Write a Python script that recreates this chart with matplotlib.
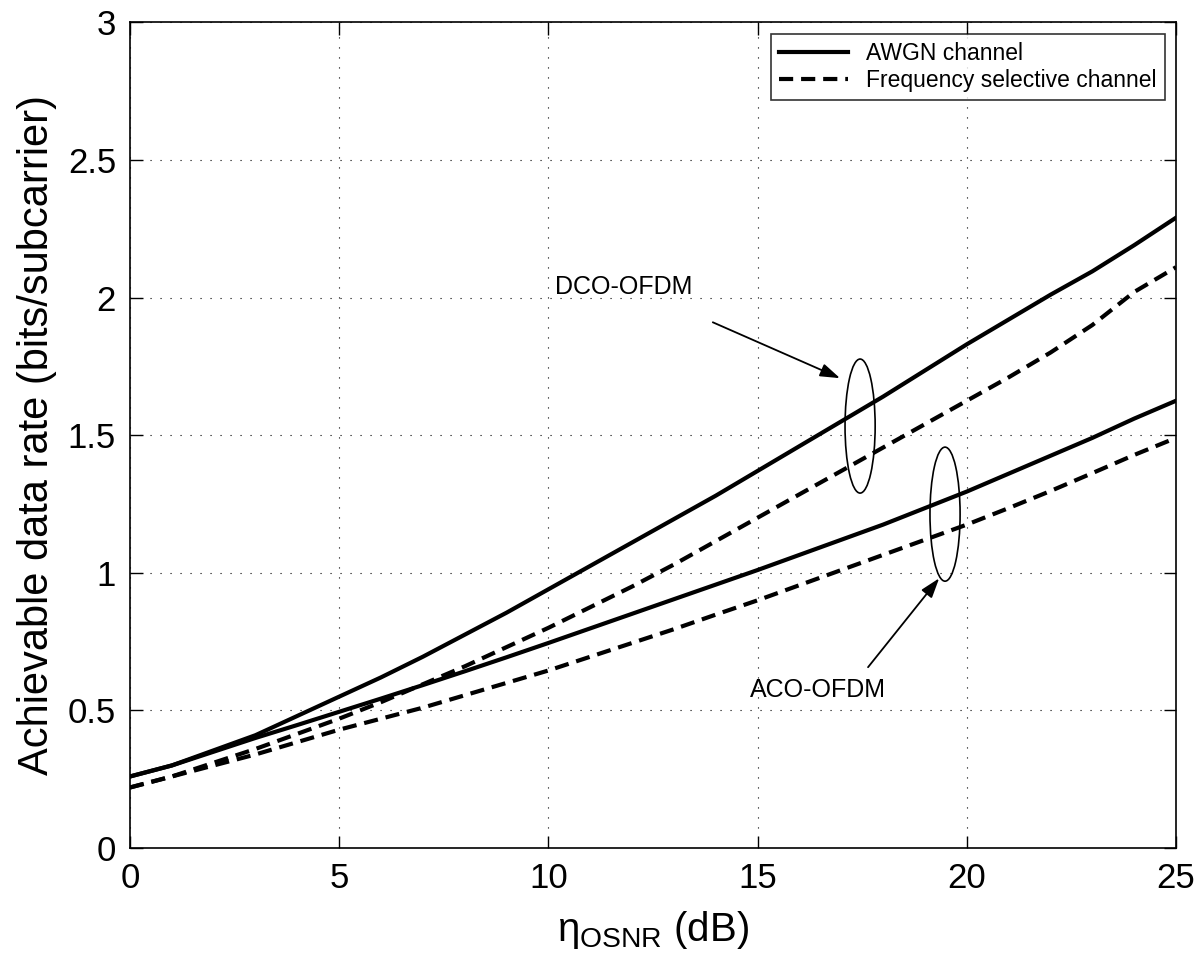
"""Achievable data rate vs OSNR: DCO-OFDM / ACO-OFDM, AWGN vs frequency selective"""
import matplotlib
matplotlib.use("Agg")
import matplotlib.pyplot as plt
from matplotlib.patches import Ellipse

plt.rcParams["font.family"] = ["Liberation Sans", "DejaVu Sans"]
plt.rcParams["mathtext.fontset"] = "custom"
plt.rcParams["mathtext.rm"] = "Liberation Sans"

osnr_db = list(range(0, 26))
dco_awgn = [0.26, 0.30, 0.355, 0.41, 0.48, 0.55, 0.62, 0.695, 0.775, 0.855, 0.94,
            1.025, 1.11, 1.195, 1.28, 1.37, 1.46, 1.55, 1.64, 1.735, 1.83,
            1.92, 2.01, 2.095, 2.19, 2.29]
dco_freq = [0.22, 0.26, 0.31, 0.36, 0.415, 0.47, 0.53, 0.595, 0.66, 0.73, 0.80,
            0.875, 0.95, 1.03, 1.115, 1.20, 1.285, 1.37, 1.455, 1.54, 1.625,
            1.71, 1.80, 1.90, 2.02, 2.11]
aco_awgn = [0.26, 0.30, 0.35, 0.40, 0.447, 0.495, 0.543, 0.592, 0.642, 0.693, 0.745,
            0.798, 0.851, 0.904, 0.957, 1.01, 1.065, 1.12, 1.175, 1.235, 1.295,
            1.36, 1.425, 1.49, 1.56, 1.625]
aco_freq = [0.22, 0.26, 0.30, 0.34, 0.385, 0.43, 0.47, 0.51, 0.555, 0.60, 0.645,
            0.695, 0.745, 0.795, 0.848, 0.90, 0.955, 1.01, 1.065, 1.12, 1.175,
            1.235, 1.297, 1.362, 1.428, 1.49]

LW = 3.0
DASH = (0, (3.4, 1.9))

fig = plt.figure(figsize=(12, 9.67), dpi=100)
ax = fig.add_axes([0.1083, 0.123, 0.8717, 0.854])

ax.plot(osnr_db, dco_awgn, color="k", lw=LW, label="AWGN channel")
ax.plot(osnr_db, dco_freq, color="k", lw=LW, ls=DASH, label="Frequency selective channel")
ax.plot(osnr_db, aco_awgn, color="k", lw=LW)
ax.plot(osnr_db, aco_freq, color="k", lw=LW, ls=DASH)

# ellipses grouping the curves
ax.add_patch(Ellipse((17.45, 1.533), 0.72, 0.487, fill=False, ec="k", lw=1.2))
ax.add_patch(Ellipse((19.48, 1.213), 0.72, 0.487, fill=False, ec="k", lw=1.2))

arrow = dict(arrowstyle="-|>,head_length=1.2,head_width=0.4", color="k", lw=1.3,
             shrinkA=0, shrinkB=0)
ax.annotate("", xy=(16.97, 1.707), xytext=(13.93, 1.91), arrowprops=arrow)
ax.annotate("", xy=(19.34, 0.98), xytext=(17.64, 0.657), arrowprops=arrow)
ax.text(10.16, 2.04, "DCO-OFDM", fontsize=18, ha="left", va="center")
ax.text(14.82, 0.574, "ACO-OFDM", fontsize=18, ha="left", va="center")

ax.set_xlim(0, 25)
ax.set_ylim(0, 3)
ax.set_xticks([0, 5, 10, 15, 20, 25])
ax.set_yticks([0, 0.5, 1, 1.5, 2, 2.5, 3])
ax.set_yticklabels(["0", "0.5", "1", "1.5", "2", "2.5", "3"])
ax.tick_params(direction="in", top=True, right=True, length=9, width=1,
               labelsize=25, pad=10)
ax.grid(True, color="k", lw=0.8, ls=(0, (1, 8)))
for s in ax.spines.values():
    s.set_linewidth(1.2)

ax.set_xlabel(r"η$_{\mathrm{OSNR}}$ (dB)", fontsize=29, labelpad=10)
ax.set_ylabel("Achievable data rate (bits/subcarrier)", fontsize=30, labelpad=8)

leg = ax.legend(loc="upper right", fontsize=16.5, frameon=True, fancybox=False,
                edgecolor="k", handlelength=3.0, borderaxespad=0.5,
                labelspacing=0.2, borderpad=0.35)
leg.get_frame().set_linewidth(1.2)

fig.savefig("out.png", dpi=100)
